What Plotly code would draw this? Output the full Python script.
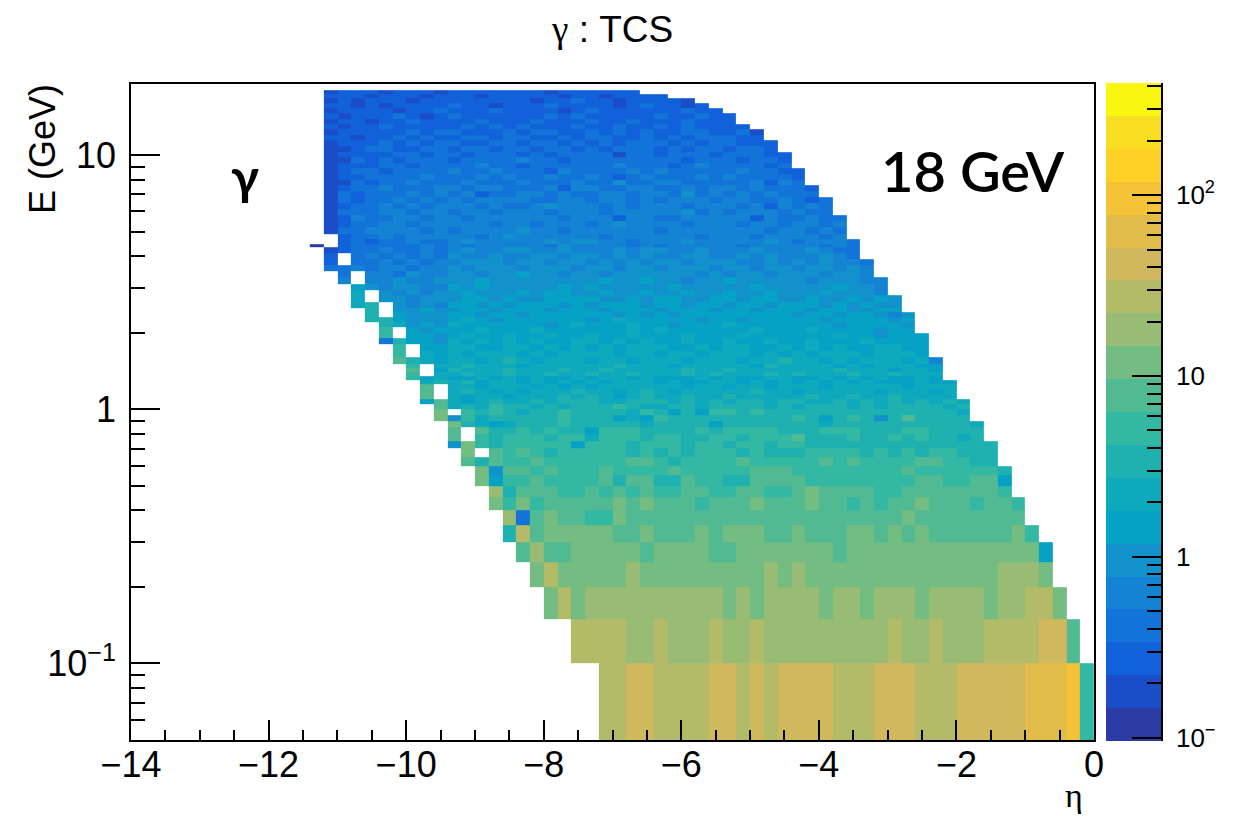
import plotly.graph_objects as go

W, H = 1241, 816
FIRST_COL_ETA = -11.4
ETA_STEP = 0.2
N_COLS = 57
ALPHABET = "0123456789abcdefghij"
Z_MIN, Z_MAX = -1.017, 2.619

BAND_COLORS = ["#2b3aa5", "#1a4ec8", "#1162da", "#1274d8", "#1583d4", "#1192cc", "#06a2c6",
               "#0fa9bd", "#1fb0b0", "#33b9a3", "#52ba92", "#73bc82", "#98bc74", "#b3bb68",
               "#d0b85c", "#e2bc4a", "#f5c238", "#ffd027", "#fade22", "#f9f70f"]

E_EDGES = [0.05, 0.1, 0.15, 0.2, 0.25, 0.3, 0.35, 0.4, 0.45, 0.5, 0.55, 0.6, 0.65, 0.7, 0.75,
           0.8, 0.85, 0.9, 0.95, 1.0, 1.05, 1.1, 1.15, 1.2, 1.25, 1.3, 1.35, 1.4, 1.45, 1.5,
           1.6, 1.7, 1.8, 1.9, 2.0, 2.1, 2.2, 2.3, 2.4, 2.5, 2.65, 2.8, 2.95, 3.1, 3.3, 3.5,
           3.7, 3.9, 4.1, 4.35, 4.45, 4.65, 4.9, 5.2, 5.5, 5.8, 6.1, 6.45, 6.8, 7.2, 7.6, 8.0,
           8.4, 8.85, 9.3, 9.8, 10.3, 10.85, 11.4, 12.0, 12.6, 13.2, 13.9, 14.6, 15.3, 16.0,
           16.7, 17.4, 18.0]

# one string per energy row (bottom to top), one character per eta bin from -11.4 upward;
# each character is the palette band of that cell, "." means an empty bin
ROWS = [
"..... ..... ..... ..... .ddee dddde edede eeedd deeed ddeee eefff g9",
"..... ..... ..... ....d dddcc dcccd ccdcc ccccc ccdcc dcccd dddee a",
"..... ..... ..... ..bdb ccccc ccccc bcbcc ccbcc bcccb ccccb ccddb",
"..... ..... ..... .bdbb bbbcb bbbbb bbbcb cbbbb bbbbb bbbbb cccb",
"..... ..... ..... acaab bbbba bbbba abbbb bbbab bbbbb bbbbb bbb6",
"..... ..... ....8 dabbb bbaab aaaba bbbaa baaab babab aaaaa ab9",
"..... ..... ....c 3abaa 99baa aaaaa aaaaa aaaaa aaaba aaaaa aa",
"..... ..... ...b9 b9aaa aabab aaa9a aabaa abaa9 a9aab aaa9a a9",
"..... ..... ...c8 aaa99 a9a9a 99aa9 9aa99 abaaa a99aa aaaaa 9",
"..... ..... ..b69 9a999 9a8aa 88a99 88aaa a9999 9999a a99aa 6",
"..... ..... ..b5a a9a99 9a999 9a999 99aaa 99999 999a9 99999 8",
"..... ..... .a8a9 9a999 999aa 98999 9a999 99a9a 9999a a9988",
"..... ..... .b.a9 a9899 99989 89899 98988 89999 89898 99888",
"..... ..... 5b989 99996 99989 99899 89989 98888 88888 88888",
"..... ..... a.989 99899 79998 99889 98999 a8889 88989 8878",
"..... ..... a.a88 98988 69998 88898 99998 88999 88899 8888",
"..... ..... b8767 88898 88887 88886 88888 88788 88888 8887",
"..... ....b 59788 88898 88676 98888 88888 98689 858a8 888",
"..... ....b .9898 78898 88879 86869 98988 88888 88888 887",
"..... ....a 78798 87878 88987 78878 88878 78887 87888 878",
"..... ...6a 76787 78788 87788 87878 78878 87787 87878 787",
"..... ...a. 76776 77787 87678 77877 87777 78778 77877 77",
"..... ...a. 78767 67778 77678 76777 77877 67777 76777 67",
"..... ...a. 77677 76767 67777 77677 67767 77677 77767 77",
"..... ...78 78677 67676 76777 67667 76767 67676 76667 66",
"..... ..967 66767 67667 67767 66676 76677 66767 67667 6",
"..... ..9.7 78778 77877 87787 77878 77787 87778 77877 7",
"..... ..a.6 87778 77787 78777 77877 87777 77787 77677 6",
"..... ..9.7 78777 67777 77877 76777 77687 77767 67776 6",
"..... .a876 77678 76777 67767 77677 76778 77676 77767 4",
"..... .9.76 76777 67677 77677 67767 77676 76777 67776",
"..... .9.66 77667 76767 67677 76676 77667 67676 67766",
"..... 38665 76767 67667 76767 66766 76676 67666 76666",
"..... 9.665 67667 66766 76676 66766 67666 66676 65666",
"..... 9.656 66766 67666 66676 76666 66766 67666 6566",
"..... 87565 76666 66567 66676 65666 76666 66656 6665",
"....8 86555 67656 66666 56766 66656 65666 66566 6656",
"....8 .6555 66566 56666 66565 65666 66666 56656 6545",
"....8 .5565 56656 66566 65666 56665 66566 65665 566",
"...78 .5454 66565 66656 56665 66566 56656 66565 655",
"...7. 55455 56656 55666 65565 66556 65665 56556 565",
"...7. 54545 56555 65665 56556 55655 65565 55655 54",
"...65 45544 65655 55565 65555 56555 55655 55565 54",
"..4.4 45445 55655 55555 56556 55455 65555 54555 44",
"..3.4 43544 55455 65545 54555 55545 45545 55455 4",
".3343 44344 54555 45554 55455 45554 55455 45545 4",
".2.33 43434 45554 55455 45454 55455 54454 54544 3",
".2.34 34343 54454 45545 54545 44554 45454 44543",
".1233 43343 45445 54454 44545 54454 44544 45433",
"0.233 33343 43444 44354 44434 34444 43444 44343",
"..232 33433 45444 44545 54434 44544 44454 34443",
"..233 43444 44345 44444 43444 44434 44344 4434",
".1334 44434 34444 54434 44444 34444 44434 4343",
".1233 44344 44434 43444 34544 44344 43443 4434",
".1243 34434 43444 44434 44244 33444 44243 3433",
".1333 44344 34434 44344 43444 44534 34443 433",
".1233 43434 44343 34544 43434 44344 43424 343",
".1323 34343 43444 43344 34434 34443 44334 323",
".1323 33434 34233 44343 34434 43534 34343 33",
".1233 43334 43443 33424 43344 33434 43433 32",
".1132 33433 34333 43334 33533 44333 33424 3",
".1223 33343 33434 33433 43234 33343 43333 2",
".1233 23333 43343 33243 33343 43333 34332 2",
".1222 33233 33433 23333 33433 32343 33323",
".1132 32333 23333 43323 33333 33233 32332",
".1222 23323 32333 23233 33133 23332 33322",
".1123 32233 23323 32332 32333 23233 2332",
".1222 32323 32233 23323 23233 32323 3222",
".2212 23232 23323 32232 33223 23233 322",
".1222 22323 32223 23322 32323 22332 231",
".2122 32222 23232 32223 22322 32322 22",
".1221 22322 22322 23222 32232 22322 2",
".2122 23212 32222 22323 22222 32232 2",
".1222 21223 22232 22212 32222 22322",
".2212 12222 32212 22322 22123 2212",
".1212 22122 22222 21223 22122 221",
".2221 22212 22122 22212 21222 2",
".1222 12221 22222 22122 2222",
]

X_MAJOR = [-14, -12, -10, -8, -6, -4, -2, 0]
X_LABELS = ["\u221214", "\u221212", "\u221210", "\u22128", "\u22126", "\u22124", "\u22122", "0"]
X_MINOR = [-13.5, -13, -12.5, -11.5, -11, -10.5, -9.5, -9, -8.5, -7.5, -7, -6.5, -5.5, -5, -4.5,
           -3.5, -3, -2.5, -1.5, -1, -0.5]
Y_MAJOR = [0.1, 1, 10]
Y_LABELS = ["10<sup>\u22121</sup>", "1", "10"]
Y_MINOR = [0.06, 0.07, 0.08, 0.09, 0.2, 0.3, 0.4, 0.5, 0.6, 0.7, 0.8, 0.9,
           2, 3, 4, 5, 6, 7, 8, 9]
BAR_MAJOR = [0.1, 1, 10, 100]
BAR_LABELS = ["10<sup>\u2212</sup>", "1", "10", "10<sup>2</sup>"]
BAR_MINOR = [0.2, 0.3, 0.4, 0.5, 0.6, 0.7, 0.8, 0.9, 2, 3, 4, 5, 6, 7, 8, 9,
             20, 30, 40, 50, 60, 70, 80, 90, 200, 300, 400]

band = (Z_MAX - Z_MIN) / len(BAND_COLORS)


def cell(ch):
    return None if ch == "." else Z_MIN + (ALPHABET.index(ch) + 0.5) * band


z = []
for row in ROWS:
    s = row.replace(" ", "").ljust(N_COLS, ".")
    assert len(s) == N_COLS, row
    z.append([cell(c) for c in s])
assert len(z) == len(E_EDGES) - 1, (len(z), len(E_EDGES))

eta_edges = [round(FIRST_COL_ETA + i * ETA_STEP, 1) for i in range(N_COLS + 1)]

scale = []
for i, c in enumerate(BAND_COLORS):
    scale += [[i / len(BAND_COLORS), c], [(i + 1) / len(BAND_COLORS), c]]


def px(x):
    return x / W


def py(y):
    return 1 - y / H


fig = go.Figure()
fig.add_trace(go.Heatmap(x=eta_edges, y=E_EDGES, z=z, colorscale=scale, zmin=Z_MIN, zmax=Z_MAX,
                         showscale=False, hoverongaps=False))
bar_edges = [10 ** (Z_MIN + i * band) for i in range(len(BAND_COLORS) + 1)]
bar_z = [[Z_MIN + (i + 0.5) * band] for i in range(len(BAND_COLORS))]
fig.add_trace(go.Heatmap(x=[0, 1], y=bar_edges, z=bar_z, colorscale=scale, zmin=Z_MIN, zmax=Z_MAX,
                         showscale=False, xaxis="x2", yaxis="y2", hoverinfo="skip"))

FONT = "Liberation Sans"
ink = "#000000"


def note(text, x, y, size, family=FONT, **kw):
    return dict(text=text, x=px(x), y=py(y), xref="paper", yref="paper", showarrow=False,
                xanchor="center", yanchor="middle", font=dict(size=size, family=family, **kw.pop("f", {})), **kw)


fig.update_layout(
    width=W, height=H, margin=dict(l=0, r=0, t=0, b=0, autoexpand=False),
    paper_bgcolor="white", plot_bgcolor="white", showlegend=False,
    font=dict(family=FONT, color=ink),
    xaxis=dict(domain=[px(131), px(1094)], range=[-14, 0], tickmode="array", tickvals=X_MAJOR,
               ticktext=X_LABELS, ticks="inside", ticklen=20, tickwidth=1.5, tickcolor=ink,
               minor=dict(ticks="inside", ticklen=10, tickwidth=1.5, tickcolor=ink, tickvals=X_MINOR),
               showgrid=False, zeroline=False, showline=True, linecolor=ink, linewidth=1.6,
               mirror=True, tickfont=dict(size=36, family=FONT), layer="above traces",
               anchor="y", ticklabelstandoff=-8),
    yaxis=dict(domain=[py(740), py(84)], type="log", range=[-1.301, 1.2795], tickmode="array",
               tickvals=Y_MAJOR, ticktext=Y_LABELS, ticks="inside", ticklen=29, tickwidth=1.5,
               tickcolor=ink,
               minor=dict(ticks="inside", ticklen=14, tickwidth=1.5, tickcolor=ink, tickvals=Y_MINOR),
               showgrid=False, zeroline=False, showline=True, linecolor=ink, linewidth=1.6,
               mirror=True, tickfont=dict(size=36, family=FONT), layer="above traces",
               anchor="x", ticklabelstandoff=6),
    xaxis2=dict(domain=[px(1106), px(1161)], range=[0, 1], visible=False, anchor="y2"),
    yaxis2=dict(domain=[py(741), py(83)], type="log", range=[Z_MIN, Z_MAX], side="right", anchor="x2",
                tickmode="array", tickvals=BAR_MAJOR, ticktext=BAR_LABELS, ticks="inside", ticklen=29,
                tickwidth=1.5, tickcolor=ink,
                minor=dict(ticks="inside", ticklen=14, tickwidth=1.5, tickcolor=ink, tickvals=BAR_MINOR),
                showgrid=False, zeroline=False, showline=True, linecolor=ink, linewidth=1.5,
                tickfont=dict(size=26, family=FONT), layer="above traces", ticklabelstandoff=8),
    annotations=[
        note('<span style="font-family:Liberation Serif">\u03b3</span> : TCS', 612, 30, 37),
        note("E (GeV)", 42, 149, 36, textangle=-90),
        note("\u03b7", 1074, 795, 34, family="Liberation Serif"),
        note("18 GeV", 973, 170, 56, family="Lato", f=dict(weight=600)),
        note("\u03b3", 245, 176, 50, family="Lato", f=dict(weight=700)),
    ],
)
fig.write_html("out.html", config=dict(displayModeBar=False),
               post_script="document.body.style.margin='0';document.body.style.overflow='hidden';")
